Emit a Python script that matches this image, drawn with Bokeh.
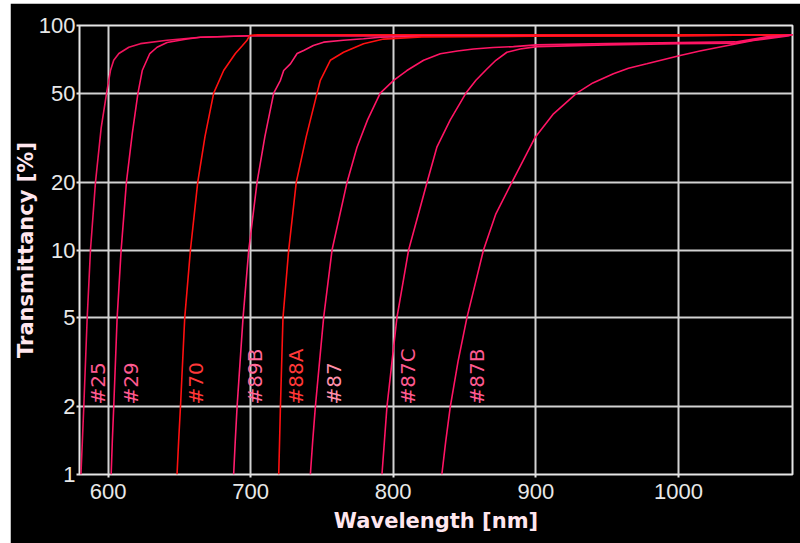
import math
from bokeh.plotting import figure
from bokeh.models import FixedTicker, ColumnDataSource, Spacer, Range1d, CustomJSTickFormatter
from bokeh.layouts import column, row
from bokeh.core.properties import value
from bokeh.embed import file_html
from bokeh.resources import INLINE

# ---- data ----
filters = ["#25", "#29", "#70", "#89B", "#88A", "#87", "#87C", "#87B"]

wl_25 = [581, 582, 583, 585.4, 587.7, 591.2, 595.2, 599, 601.7, 604, 607.6, 614.6, 622.7, 641.4, 664.8, 700, 800, 900, 1000, 1080]
tr_25 = [1, 1.4, 2, 5, 10, 20, 35, 50, 63, 70, 75, 80, 83, 86, 88.7, 90, 90, 90.5, 90.5, 91]

wl_29 = [602.2, 603, 604, 606.4, 609.2, 612.9, 617, 621, 624, 629.3, 634.4, 641.4, 655.4, 664.8, 700, 800, 900, 1000, 1080]
tr_29 = [1, 1.4, 2, 5, 10, 20, 33, 50, 63, 75, 80, 84, 87, 88.7, 90, 90, 90.5, 90.5, 91]

wl_70 = [648.4, 649.5, 650.8, 653.8, 657.8, 662.9, 668, 674.1, 681.1, 689.3, 694, 697.5, 699.3, 705, 800, 900, 1000, 1080]
tr_70 = [1, 1.4, 2, 5, 10, 20, 32, 50, 63, 75, 81, 86, 90.2, 91, 91, 91, 91, 91]

wl_89B = [688.1, 689.2, 690.5, 694.7, 698.7, 704.5, 710, 716.2, 720.9, 723.2, 727.9, 732.6, 737.2, 744, 751.2, 765, 779.2, 791, 820, 900, 1000, 1080]
tr_89B = [1, 1.4, 2, 5, 10, 20, 32, 50, 57, 63, 67.5, 75, 77.4, 81.5, 84.3, 86, 87.3, 88.7, 89.5, 90, 90, 91]

wl_88A = [719.7, 720.3, 720.9, 722.7, 726.7, 732, 739, 746.6, 748.9, 755.9, 765.2, 779.2, 793.2, 820, 900, 1000, 1080]
tr_88A = [1, 1.4, 2, 5, 10, 20, 32, 50, 57, 70, 76, 83, 87, 89, 89.5, 90, 91]

wl_87 = [741.9, 743.5, 745.4, 751.2, 757.1, 767.6, 774.6, 782, 790.9, 800.3, 809.6, 821.3, 833, 845, 856.3, 870, 884.3, 900.7, 950, 1000, 1040, 1062, 1080]
tr_87 = [1, 1.4, 2, 5, 10, 20, 28.7, 38, 50, 57, 63, 70, 74.8, 77, 78.6, 79.8, 80.5, 82, 83, 84, 84.5, 89, 91]

wl_87C = [792.1, 793.8, 795.6, 802.6, 810.8, 823.7, 830.6, 840, 851, 858, 865.7, 872, 879.7, 889, 900.7, 950, 1000, 1040, 1062, 1080]
tr_87C = [1, 1.4, 2, 5, 10, 20, 28.7, 38, 50, 57, 64, 70, 76, 78.6, 80.5, 82, 83, 83.5, 88, 91]

wl_87B = [834.1, 836.8, 840, 845.5, 851.7, 863.3, 872, 883.2, 899.6, 912.4, 928.7, 940, 954.4, 965, 977.8, 1001.2, 1015, 1029.2, 1052.5, 1078]
tr_87B = [1, 1.4, 2, 3.2, 5, 10, 14.5, 20, 31.8, 40.4, 50, 55.5, 61, 64.5, 67.5, 73.5, 77, 80.2, 85.7, 90]

label_wl = [593.3, 616.4, 662, 703.3, 732, 758.7, 810.5, 858.9]
label_tr = [2.05] * 8

x_ticks = [600, 700, 800, 900, 1000]
y_ticks = [1, 2, 5, 10, 20, 50, 100]

curves = [(wl_25, tr_25), (wl_29, tr_29), (wl_70, tr_70), (wl_89B, tr_89B),
          (wl_88A, tr_88A), (wl_87, tr_87), (wl_87C, tr_87C), (wl_87B, tr_87B)]
line_colors = ["#f0145c", "#ff1464", "#ff1010", "#ff1e6e", "#ff1010", "#ff1464", "#ff1464", "#ff1464"]
label_colors = ["#ff5a90", "#ff5a90", "#ff3838", "#ff6a9a", "#ff3838", "#ff90aa", "#ff5a90", "#ff5a90"]

p = figure(width=790, height=540, y_axis_type="log",
           x_range=Range1d(580, 1080), y_range=Range1d(1, 100),
           output_backend="svg", toolbar_location=None,
           background_fill_color="black", border_fill_color="black",
           min_border_left=69, min_border_top=22, min_border_right=8, min_border_bottom=69)

for (wl, tr), c in zip(curves, line_colors):
    p.line(wl, tr, line_color=c, line_width=1.6)

src = ColumnDataSource(dict(x=label_wl, y=label_tr, t=filters, c=label_colors))
p.text(x="x", y="y", text="t", source=src, angle=math.pi / 2,
       text_align="left", text_baseline="middle", text_color="c",
       text_font=value("DejaVu Sans"), text_font_size="20px")

p.outline_line_color = "#e6e6e6"
p.outline_line_width = 2
p.outline_line_alpha = 1

p.xaxis.ticker = FixedTicker(ticks=x_ticks, minor_ticks=[])
p.yaxis.ticker = FixedTicker(ticks=y_ticks, minor_ticks=[])
p.yaxis.formatter = CustomJSTickFormatter(code="return String(tick)")

for ax in (p.xaxis, p.yaxis):
    ax.axis_line_color = None
    ax.major_tick_line_color = "#e6e6e6"
    ax.major_tick_line_width = 2
    ax.major_tick_out = 3
    ax.major_tick_in = 0
    ax.minor_tick_line_color = None
    ax.major_label_text_color = "#e8e8e8"
    ax.major_label_text_font = "Liberation Sans"
    ax.major_label_text_font_size = "22px"
    ax.axis_label_text_color = "#ffe6ee"
    ax.axis_label_text_font = "DejaVu Sans"
    ax.axis_label_text_font_style = "bold"
    ax.axis_label_text_font_size = "21px"

p.xaxis.axis_label = "Wavelength [nm]"
p.yaxis.axis_label = "Transmittancy [%]"
p.xaxis.major_label_standoff = 6
p.yaxis.major_label_standoff = 1
p.xaxis.axis_label_standoff = 7
p.yaxis.axis_label_standoff = -2

p.xgrid.ticker = FixedTicker(ticks=x_ticks)
p.ygrid.ticker = FixedTicker(ticks=y_ticks)
for g in (p.xgrid, p.ygrid):
    g.grid_line_color = "#d2d2d2"
    g.grid_line_width = 2
    g.grid_line_alpha = 1

layout = column(Spacer(height=3), row(Spacer(width=10), p), spacing=0)
open("out.html", "w").write(file_html(layout, INLINE))
